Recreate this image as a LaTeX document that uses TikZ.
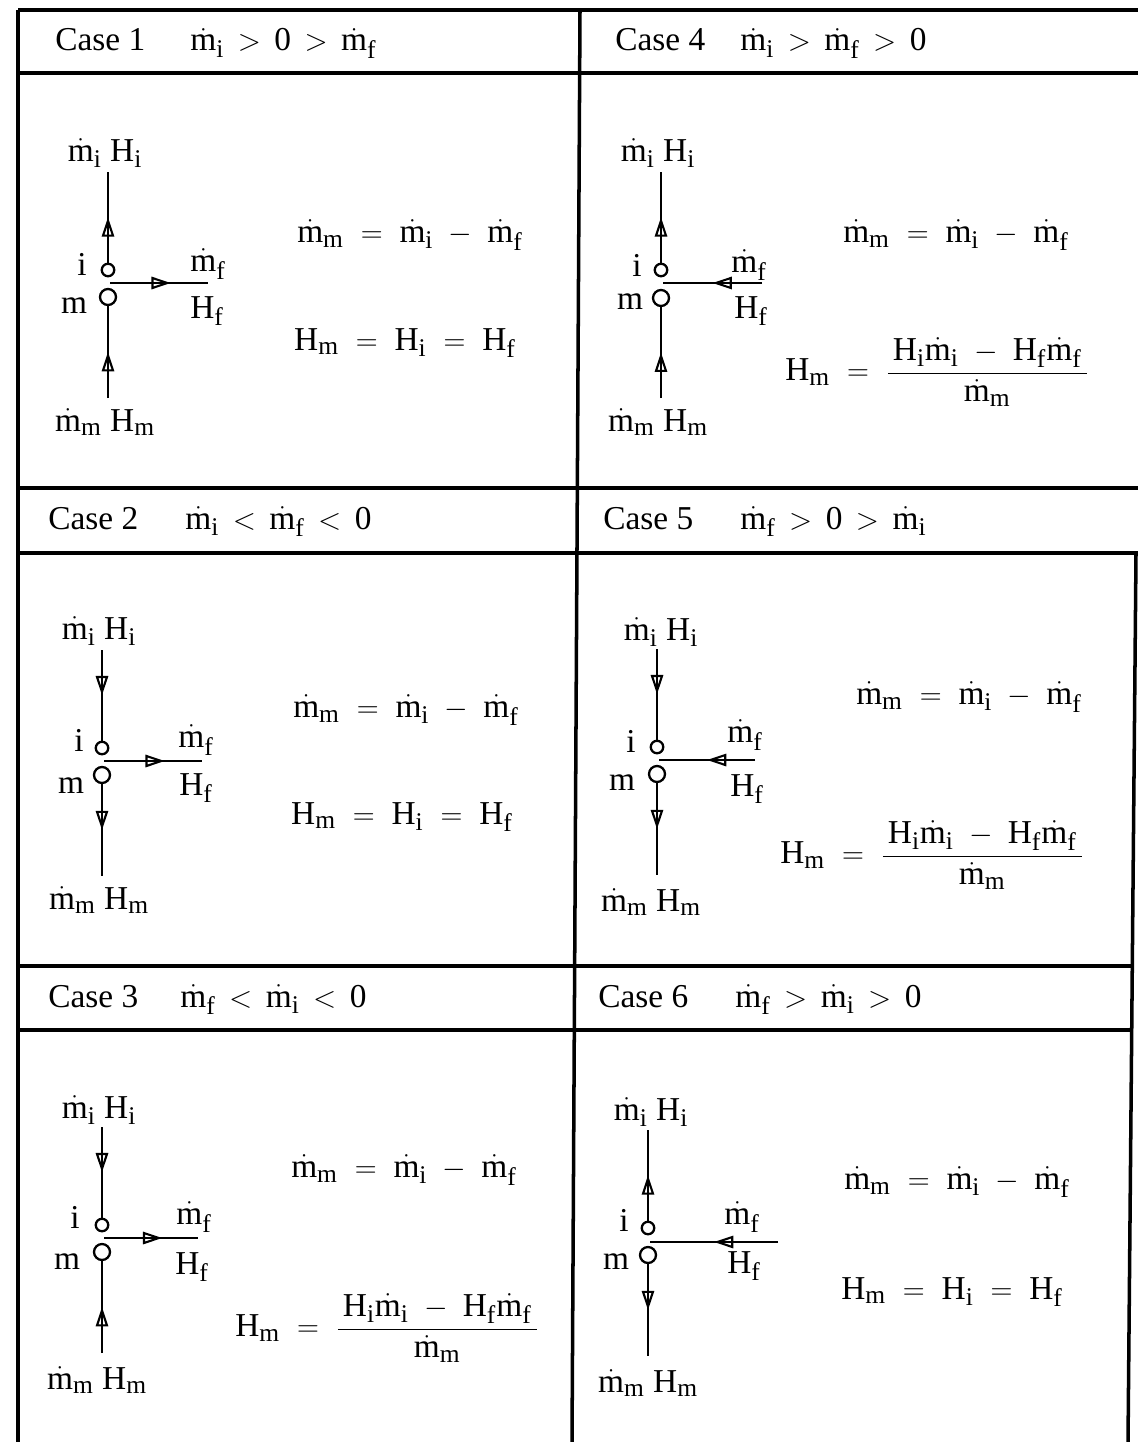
\documentclass[tikz,border=0pt]{standalone}
\usepackage{amsmath}
\usepackage{fontspec}
\setmainfont{Liberation Serif}
\usepackage{tikz}
\usetikzlibrary{arrows.meta, decorations.markings, positioning}

\DeclareMathSizes{19}{19}{14.5}{11}
\newcommand{\mfl}[1]{\dot{\mathrm{m}}_{\mathrm{#1}}}
\newcommand{\hfl}[1]{\mathrm{H}_{\mathrm{#1}}}

\begin{document}
\begin{tikzpicture}[
        x=0.02cm, y=-0.02cm,
        font=\fontsize{19}{22}\selectfont,
        rule/.style={line width=2pt},
        flow/.style={line width=1.3pt, postaction={decorate},
            decoration={markings, mark=at position #1 with {\arrow[line width=1.2pt]{Triangle[open, length=11pt, width=7pt]}}}},
        flow/.default=0.5,
        jn/.style={circle, draw, line width=1.3pt, inner sep=0pt, minimum size=0.25cm},
        mix/.style={jn, minimum size=0.32cm},
        lbl/.style={inner sep=0pt},
        eq/.style={inner sep=0pt}
    ]
    \useasboundingbox (0,0) rectangle (1138,1442);

    % table
    \draw[rule] (18,10) -- (1138,10);
    \draw[rule] (18,73) -- (1138,73);
    \draw[rule] (18,488) -- (1138,488);
    \draw[rule] (18,553) -- (1138,553);
    \draw[rule] (18,966) -- (1133,966);
    \draw[rule] (18,1030) -- (1132,1030);
    \draw[rule] (18,10) -- (18,1442);
    \draw[rule] (580,10) -- (572,1442);
    \draw[rule] (1136,553) -- (1128,1442);

    % case 1
    \node[lbl, anchor=base west] (case1) at (55,51) {Case 1};
    \node[lbl, anchor=base west] (cond1) at (190,51) {$\mfl{i} \,>\, \mathrm{0} \,>\, \mfl{f}$};
    \begin{scope}[shift={(108,270)}]
        \node[jn] (i1) at (0,0) {};
        \node[mix] (m1) at (0,27) {};
        \coordinate (up1) at (0,-98);
        \coordinate (dn1) at (0,128);
        \coordinate (hs1) at (2,13);
        \coordinate (he1) at (100,13);
        \node[lbl] (top1) at (-3,-117) {$\mfl{i}\;\hfl{i}$};
        \node[lbl] (bot1) at (-3,152) {$\mfl{m}\;\hfl{m}$};
        \node[lbl] (li1) at (-26,-6) {i};
        \node[lbl] (lm1) at (-34,36) {m};
        \node[lbl] (lf1) at (100,-6) {$\mfl{f}$};
        \node[lbl] (lh1) at (99,41) {$\hfl{f}$};
        \draw[flow] (i1) -- (up1);
        \draw[flow=0.62] (hs1) -- (he1);
        \draw[flow] (dn1) -- (m1);
    \end{scope}
    \node[eq] (mm1) at (410,235) {$\mfl{m} \;=\; \mfl{i} \;-\; \mfl{f}$};
    \node[eq] (hm1) at (405,343) {$\hfl{m} \;=\; \hfl{i} \;=\; \hfl{f}$};

    % case 2
    \node[lbl, anchor=base west] (case2) at (48,529) {Case 2};
    \node[lbl, anchor=base west] (cond2) at (185,529) {$\mfl{i} \,<\, \mfl{f} \,<\, \mathrm{0}$};
    \begin{scope}[shift={(102,748)}]
        \node[jn] (i2) at (0,0) {};
        \node[mix] (m2) at (0,27) {};
        \coordinate (up2) at (0,-98);
        \coordinate (dn2) at (0,128);
        \coordinate (hs2) at (2,13);
        \coordinate (he2) at (100,13);
        \node[lbl] (top2) at (-3,-117) {$\mfl{i}\;\hfl{i}$};
        \node[lbl] (bot2) at (-3,152) {$\mfl{m}\;\hfl{m}$};
        \node[lbl] (li2) at (-23,-8) {i};
        \node[lbl] (lm2) at (-31,38) {m};
        \node[lbl] (lf2) at (94,-8) {$\mfl{f}$};
        \node[lbl] (lh2) at (94,40) {$\hfl{f}$};
        \draw[flow] (up2) -- (i2);
        \draw[flow=0.62] (hs2) -- (he2);
        \draw[flow] (m2) -- (dn2);
    \end{scope}
    \node[eq] (mm2) at (406,710) {$\mfl{m} \;=\; \mfl{i} \;-\; \mfl{f}$};
    \node[eq] (hm2) at (402,817) {$\hfl{m} \;=\; \hfl{i} \;=\; \hfl{f}$};

    % case 3
    \node[lbl, anchor=base west] (case3) at (48,1007) {Case 3};
    \node[lbl, anchor=base west] (cond3) at (180,1007) {$\mfl{f} \,<\, \mfl{i} \,<\, \mathrm{0}$};
    \begin{scope}[shift={(102,1225)}]
        \node[jn] (i3) at (0,0) {};
        \node[mix] (m3) at (0,27) {};
        \coordinate (up3) at (0,-98);
        \coordinate (dn3) at (0,128);
        \coordinate (hs3) at (2,13);
        \coordinate (he3) at (96,13);
        \node[lbl] (top3) at (-3,-115) {$\mfl{i}\;\hfl{i}$};
        \node[lbl] (bot3) at (-5,155) {$\mfl{m}\;\hfl{m}$};
        \node[lbl] (li3) at (-27,-8) {i};
        \node[lbl] (lm3) at (-35,37) {m};
        \node[lbl] (lf3) at (92,-8) {$\mfl{f}$};
        \node[lbl] (lh3) at (90,42) {$\hfl{f}$};
        \draw[flow] (up3) -- (i3);
        \draw[flow=0.62] (hs3) -- (he3);
        \draw[flow] (dn3) -- (m3);
    \end{scope}
    \node[eq] (mm3) at (404,1170) {$\mfl{m} \;=\; \mfl{i} \;-\; \mfl{f}$};
    \node[eq, anchor=west] (hm3) at (235,1328) {$\hfl{m} \;=\; \dfrac{\,\hfl{i}\mfl{i} \;-\; \hfl{f}\mfl{f}\,}{\mfl{m}}$};

    % case 4
    \node[lbl, anchor=base west] (case4) at (615,51) {Case 4};
    \node[lbl, anchor=base west] (cond4) at (740,51) {$\mfl{i} \,>\, \mfl{f} \,>\, \mathrm{0}$};
    \begin{scope}[shift={(661,270)}]
        \node[jn] (i4) at (0,0) {};
        \node[mix] (m4) at (0,28) {};
        \coordinate (up4) at (0,-98);
        \coordinate (dn4) at (0,128);
        \coordinate (hs4) at (2,13);
        \coordinate (he4) at (101,13);
        \node[lbl] (top4) at (-3,-117) {$\mfl{i}\;\hfl{i}$};
        \node[lbl] (bot4) at (-3,152) {$\mfl{m}\;\hfl{m}$};
        \node[lbl] (li4) at (-24,-5) {i};
        \node[lbl] (lm4) at (-31,32) {m};
        \node[lbl] (lf4) at (88,-5) {$\mfl{f}$};
        \node[lbl] (lh4) at (90,41) {$\hfl{f}$};
        \draw[flow] (i4) -- (up4);
        \draw[flow] (he4) -- (hs4);
        \draw[flow] (dn4) -- (m4);
    \end{scope}
    \node[eq] (mm4) at (956,235) {$\mfl{m} \;=\; \mfl{i} \;-\; \mfl{f}$};
    \node[eq, anchor=west] (hm4) at (785,372) {$\hfl{m} \;=\; \dfrac{\,\hfl{i}\mfl{i} \;-\; \hfl{f}\mfl{f}\,}{\mfl{m}}$};

    % case 5
    \node[lbl, anchor=base west] (case5) at (603,529) {Case 5};
    \node[lbl, anchor=base west] (cond5) at (740,529) {$\mfl{f} \,>\, \mathrm{0} \,>\, \mfl{i}$};
    \begin{scope}[shift={(657,747)}]
        \node[jn] (i5) at (0,0) {};
        \node[mix] (m5) at (0,27) {};
        \coordinate (up5) at (0,-98);
        \coordinate (dn5) at (0,128);
        \coordinate (hs5) at (2,13);
        \coordinate (he5) at (98,13);
        \node[lbl] (top5) at (4,-115) {$\mfl{i}\;\hfl{i}$};
        \node[lbl] (bot5) at (-6,155) {$\mfl{m}\;\hfl{m}$};
        \node[lbl] (li5) at (-26,-6) {i};
        \node[lbl] (lm5) at (-35,36) {m};
        \node[lbl] (lf5) at (88,-12) {$\mfl{f}$};
        \node[lbl] (lh5) at (90,42) {$\hfl{f}$};
        \draw[flow] (up5) -- (i5);
        \draw[flow] (he5) -- (hs5);
        \draw[flow] (m5) -- (dn5);
    \end{scope}
    \node[eq] (mm5) at (969,697) {$\mfl{m} \;=\; \mfl{i} \;-\; \mfl{f}$};
    \node[eq, anchor=west] (hm5) at (780,855) {$\hfl{m} \;=\; \dfrac{\,\hfl{i}\mfl{i} \;-\; \hfl{f}\mfl{f}\,}{\mfl{m}}$};

    % case 6
    \node[lbl, anchor=base west] (case6) at (598,1007) {Case 6};
    \node[lbl, anchor=base west] (cond6) at (735,1007) {$\mfl{f} \,>\, \mfl{i} \,>\, \mathrm{0}$};
    \begin{scope}[shift={(648,1228)}]
        \node[jn] (i6) at (0,0) {};
        \node[mix] (m6) at (0,27) {};
        \coordinate (up6) at (0,-98);
        \coordinate (dn6) at (0,128);
        \coordinate (hs6) at (2,14);
        \coordinate (he6) at (130,14);
        \node[lbl] (top6) at (3,-116) {$\mfl{i}\;\hfl{i}$};
        \node[lbl] (bot6) at (0,155) {$\mfl{m}\;\hfl{m}$};
        \node[lbl] (li6) at (-24,-8) {i};
        \node[lbl] (lm6) at (-32,34) {m};
        \node[lbl] (lf6) at (94,-11) {$\mfl{f}$};
        \node[lbl] (lh6) at (96,38) {$\hfl{f}$};
        \draw[flow] (i6) -- (up6);
        \draw[flow] (he6) -- (hs6);
        \draw[flow] (m6) -- (dn6);
    \end{scope}
    \node[eq] (mm6) at (957,1182) {$\mfl{m} \;=\; \mfl{i} \;-\; \mfl{f}$};
    \node[eq] (hm6) at (952,1292) {$\hfl{m} \;=\; \hfl{i} \;=\; \hfl{f}$};

\end{tikzpicture}
\end{document}
